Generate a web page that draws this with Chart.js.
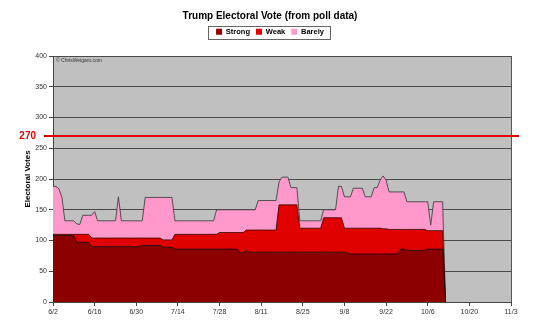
<!DOCTYPE html>
<html>
<head>
<meta charset="utf-8">
<script src="https://cdn.jsdelivr.net/npm/chart.js@4.4.1/dist/chart.umd.min.js"></script>
<style>
  html, body { margin: 0; padding: 0; background: #fff; }
  canvas { display: block; }
</style>
</head>
<body>
<canvas id="evChart" width="540" height="327"></canvas>
<script>
// days since 6/2, with the electoral votes in each group
const days   = [0,1,2,3,4,7,8,9,10,12,13,14,15,21,22,23,29,30,31,36,37,40,41,54,55,56,62,63,64,65,66,68,69,75,76,77,79,80,82,83,90,91,95,96,97,98,99,100,101,104,105,107,108,109,110,111,112,113,116,117,118,119,125,126,127,128,131,132];
const strong = [108,108,108,108,108,108,97,97,97,97,90,90,90,90,90,90,90,92,92,92,89,89,86,86,86,86,86,80,80,85,81,81,81,81,81,81,81,81,81,81,81,81,81,81,81,81,80,78,78,78,78,78,78,78,78,78,78,78,78,86,86,84,84,86,86,86,86,0];
const weak   = [2,2,2,2,2,2,13,13,13,13,14,14,14,14,14,14,14,12,12,12,12,12,24,24,24,27,27,33,33,32,36,36,36,36,77,77,77,77,77,39,39,56,56,56,56,39,40,42,42,42,42,42,42,42,42,41,41,40,40,32,32,34,34,30,30,30,30,0];
const barely = [78,78,74,60,22,22,17,16,31,31,37,43,28,28,67,28,28,28,66,66,69,69,22,22,40,37,37,37,37,33,33,33,48,48,37,45,45,28,28,12,12,13,13,51,51,51,51,51,65,65,51,51,66,66,78,86,79,61,61,61,61,45,45,47,9,47,47,0];
const xLabels = ['6/2','6/16','6/30','7/14','7/28','8/11','8/25','9/8','9/22','10/6','10/20','11/3'];
const winLine = 270;

Chart.defaults.font.family = "'Liberation Sans', Arial, sans-serif";

const pts = arr => days.map((d, i) => ({x: d, y: arr[i]}));

const decor = {
  id: 'decor',
  beforeDraw(chart) {
    const {ctx, chartArea: a} = chart;
    ctx.save();
    ctx.fillStyle = '#c0c0c0';
    ctx.fillRect(a.left, a.top, a.right - a.left, a.bottom - a.top);
    ctx.restore();
  },
  afterDraw(chart) {
    const {ctx, chartArea: a} = chart;
    const y = chart.scales.y;
    ctx.save();
    // right edge of the plot
    ctx.strokeStyle = '#555';
    ctx.lineWidth = 1;
    ctx.beginPath();
    ctx.moveTo(a.right + 0.5, a.top);
    ctx.lineTo(a.right + 0.5, a.bottom);
    ctx.stroke();

    // 270 to win
    const py = y.getPixelForValue(winLine);
    ctx.strokeStyle = '#e00000';
    ctx.lineWidth = 2;
    ctx.beginPath();
    ctx.moveTo(44, py);
    ctx.lineTo(519, py);
    ctx.stroke();
    ctx.fillStyle = '#e00000';
    ctx.font = "bold 10px 'Liberation Sans', Arial";
    ctx.textAlign = 'right';
    ctx.textBaseline = 'middle';
    ctx.fillText(String(winLine), 36, py);

    // credit
    ctx.fillStyle = '#333';
    ctx.font = "5px 'Liberation Sans', Arial";
    ctx.textAlign = 'left';
    ctx.fillText('\u00a9 ChrisWeigant.com', a.left + 3, a.top + 5);

    // box round the legend
    const hb = chart.legend.legendHitBoxes;
    if (hb && hb.length) {
      const l = Math.min(...hb.map(h => h.left)) - 8;
      const r = Math.max(...hb.map(h => h.left + h.width)) + 6;
      const t = hb[0].top - 2.5;
      const b = hb[0].top + hb[0].height + 2.5;
      ctx.strokeStyle = '#666';
      ctx.lineWidth = 1;
      ctx.strokeRect(Math.round(l) + 0.5, Math.round(t) + 0.5, Math.round(r - l), Math.round(b - t));
    }
    ctx.restore();
  }
};

new Chart(document.getElementById('evChart'), {
  type: 'line',
  data: {
    datasets: [
      { label: 'Strong', data: pts(strong), xAxisID: 'x', yAxisID: 'y', backgroundColor: '#8c0000', borderColor: 'rgba(0,0,0,0.75)', fill: 'origin' },
      { label: 'Weak',   data: pts(weak),   xAxisID: 'x', yAxisID: 'y', backgroundColor: '#e00000', borderColor: 'rgba(40,0,0,0.75)', fill: '-1' },
      { label: 'Barely', data: pts(barely), xAxisID: 'x', yAxisID: 'y', backgroundColor: '#ff99cc', borderColor: 'rgba(60,60,60,0.85)', fill: '-1' }
    ]
  },
  options: {
    responsive: false,
    animation: false,
    layout: { padding: 0 },
    elements: {
      line: { borderWidth: 1, tension: 0 },
      point: { radius: 0 }
    },
    plugins: {
      title: {
        display: true,
        text: 'Trump Electoral Vote (from poll data)',
        color: '#000',
        font: { size: 10, weight: 'bold' },
        padding: { top: 10, bottom: 0 }
      },
      legend: {
        display: true,
        labels: {
          color: '#000',
          font: { size: 7.5, weight: 'bold' },
          boxWidth: 6,
          boxHeight: 6,
          padding: 6,
          generateLabels: chart => Chart.defaults.plugins.legend.labels.generateLabels(chart).map(l => ({...l, lineWidth: 0}))
        }
      },
      tooltip: { enabled: false }
    },
    scales: {
      x: {
        type: 'linear',
        min: 0,
        max: 154,
        afterFit: s => { s.height = 25; },
        grid: { display: true, drawOnChartArea: false, drawTicks: true, tickLength: 4, tickColor: '#444' },
        border: { display: true, color: '#444' },
        ticks: {
          stepSize: 14,
          autoSkip: false,
          maxRotation: 0,
          padding: 2,
          color: '#333',
          font: { size: 7 },
          callback: v => xLabels[Math.round(v / 14)]
        }
      },
      y: {
        stacked: true,
        min: 0,
        max: 400,
        afterFit: s => { s.width = 53; },
        grid: { color: '#4a4a4a', tickLength: 4, tickColor: '#444' },
        border: { display: true, color: '#444' },
        ticks: { stepSize: 50, padding: 2, color: '#333', font: { size: 7 } },
        title: {
          display: true,
          text: 'Electoral Votes',
          color: '#000',
          font: { size: 8, weight: 'bold' },
          padding: { top: 23, bottom: 0 }
        }
      },
      spacerTop: {
        type: 'linear',
        axis: 'x',
        position: 'top',
        display: true,
        afterFit: s => { s.height = 10.5; },
        grid: { display: false, drawTicks: false },
        border: { display: false },
        ticks: { display: false }
      },
      spacerRight: {
        type: 'linear',
        axis: 'y',
        position: 'right',
        display: true,
        afterFit: s => { s.width = 29; },
        grid: { display: false, drawTicks: false },
        border: { display: false },
        ticks: { display: false }
      }
    }
  },
  plugins: [decor]
});
</script>
</body>
</html>
